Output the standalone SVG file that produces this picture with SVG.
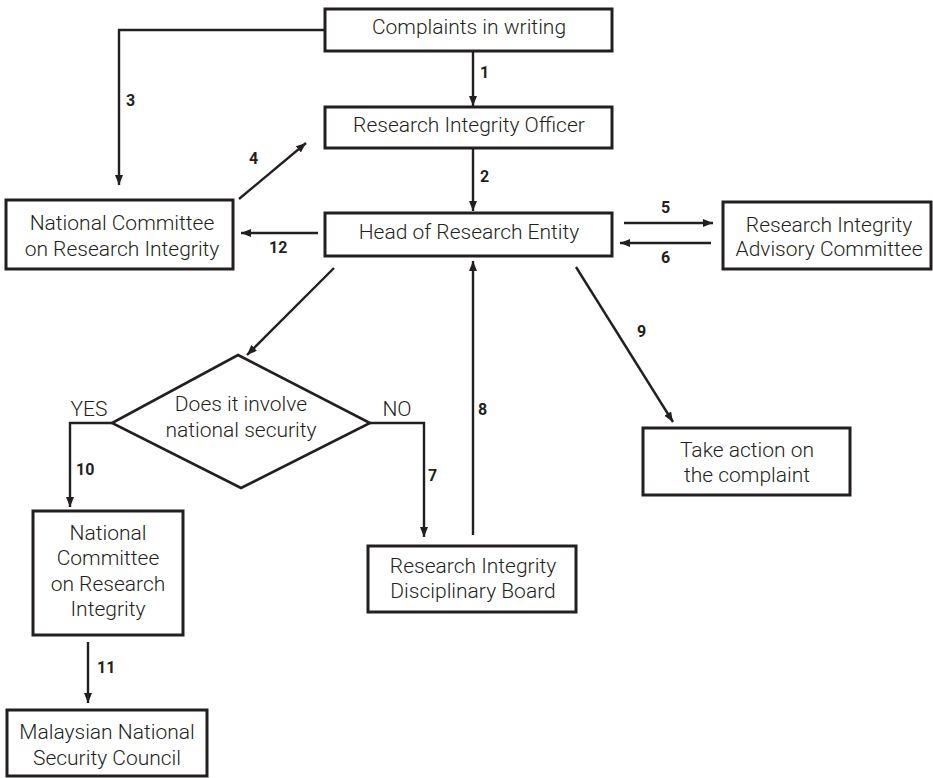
<svg xmlns="http://www.w3.org/2000/svg" width="933" height="778" viewBox="0 0 933 778">
<style>
.box{fill:#fff;stroke:#231f20;stroke-width:3}
.t{font-family:Roboto,"Liberation Sans",sans-serif;font-size:21px;font-weight:300;fill:#231f20;text-anchor:middle}
.n{font-family:Roboto,"Liberation Sans",sans-serif;font-size:16px;font-weight:bold;fill:#231f20}
.c{fill:none;stroke:#231f20;stroke-width:2.4}
</style>
<defs>
<marker id="ah" markerUnits="userSpaceOnUse" markerWidth="10" markerHeight="10" viewBox="0 0 10 10" refX="10" refY="5" orient="auto">
<path d="M0,1 L10,5 L0,9 Z" fill="#231f20"/>
</marker>
</defs>
<rect width="933" height="778" fill="#fff"/>
<g id="connectors">
<path class="c" d="M473,51 V106" marker-end="url(#ah)"/>
<path class="c" d="M473,148 V211" marker-end="url(#ah)"/>
<path class="c" d="M325,30 H119 V185" marker-end="url(#ah)"/>
<path class="c" d="M239,199 L306,143" marker-end="url(#ah)"/>
<path class="c" d="M624,223 H713" marker-end="url(#ah)"/>
<path class="c" d="M711,243 H620" marker-end="url(#ah)"/>
<path class="c" d="M318,233 H241" marker-end="url(#ah)"/>
<path class="c" d="M334,268 L247,355" marker-end="url(#ah)"/>
<path class="c" d="M576,267 L673,422" marker-end="url(#ah)"/>
<path class="c" d="M112,423 H70 V507" marker-end="url(#ah)"/>
<path class="c" d="M370,423 H424 V537" marker-end="url(#ah)"/>
<path class="c" d="M473,535 V261" marker-end="url(#ah)"/>
<path class="c" d="M88,642 V703" marker-end="url(#ah)"/>
<text class="n" x="480" y="78">1</text>
<text class="n" x="480" y="182">2</text>
<text class="n" x="126" y="106">3</text>
<text class="n" x="249" y="164">4</text>
<text class="n" x="661" y="213">5</text>
<text class="n" x="661" y="263">6</text>
<text class="n" x="269" y="253">12</text>
<text class="n" x="637" y="337">9</text>
<text class="n" x="478" y="415">8</text>
<text class="n" x="428" y="481">7</text>
<text class="n" x="76" y="475">10</text>
<text class="n" x="97" y="673">11</text>
</g>
<g id="complaints">
<rect class="box" x="325" y="9" width="287" height="42"/>
<text class="t" x="469" y="34">Complaints in writing</text>
</g>
<g id="rio">
<rect class="box" x="325" y="107" width="287" height="41"/>
<text class="t" x="469" y="132">Research Integrity Officer</text>
</g>
<g id="head">
<rect class="box" x="325" y="213" width="287" height="43"/>
<text class="t" x="469" y="239">Head of Research Entity</text>
</g>
<g id="ncri1">
<rect class="box" x="6" y="200" width="227" height="69"/>
<text class="t" x="122" y="230">National Committee</text>
<text class="t" x="122" y="256">on Research Integrity</text>
</g>
<g id="riac">
<rect class="box" x="723" y="202" width="208" height="67"/>
<text class="t" x="829" y="232">Research Integrity</text>
<text class="t" x="829" y="256">Advisory Committee</text>
</g>
<g id="decision">
<polygon points="238,355 370,423 241,488 112,423" fill="#fff" stroke="#231f20" stroke-width="2.6"/>
<text class="t" x="241" y="411">Does it involve</text>
<text class="t" x="241" y="437">national security</text>
<text class="t" x="89" y="416">YES</text>
<text class="t" x="397" y="416">NO</text>
</g>
<g id="action">
<rect class="box" x="643" y="428" width="207" height="67"/>
<text class="t" x="747" y="457">Take action on</text>
<text class="t" x="747" y="482">the complaint</text>
</g>
<g id="ncri2">
<rect class="box" x="33" y="511" width="150" height="124"/>
<text class="t" x="108" y="540">National</text>
<text class="t" x="108" y="565">Committee</text>
<text class="t" x="108" y="591">on Research</text>
<text class="t" x="108" y="616">Integrity</text>
</g>
<g id="ridb">
<rect class="box" x="368" y="546" width="208" height="66"/>
<text class="t" x="473" y="573">Research Integrity</text>
<text class="t" x="473" y="598">Disciplinary Board</text>
</g>
<g id="mnsc">
<rect class="box" x="7" y="710" width="200" height="66"/>
<text class="t" x="107" y="739">Malaysian National</text>
<text class="t" x="107" y="765">Security Council</text>
</g>
</svg>
